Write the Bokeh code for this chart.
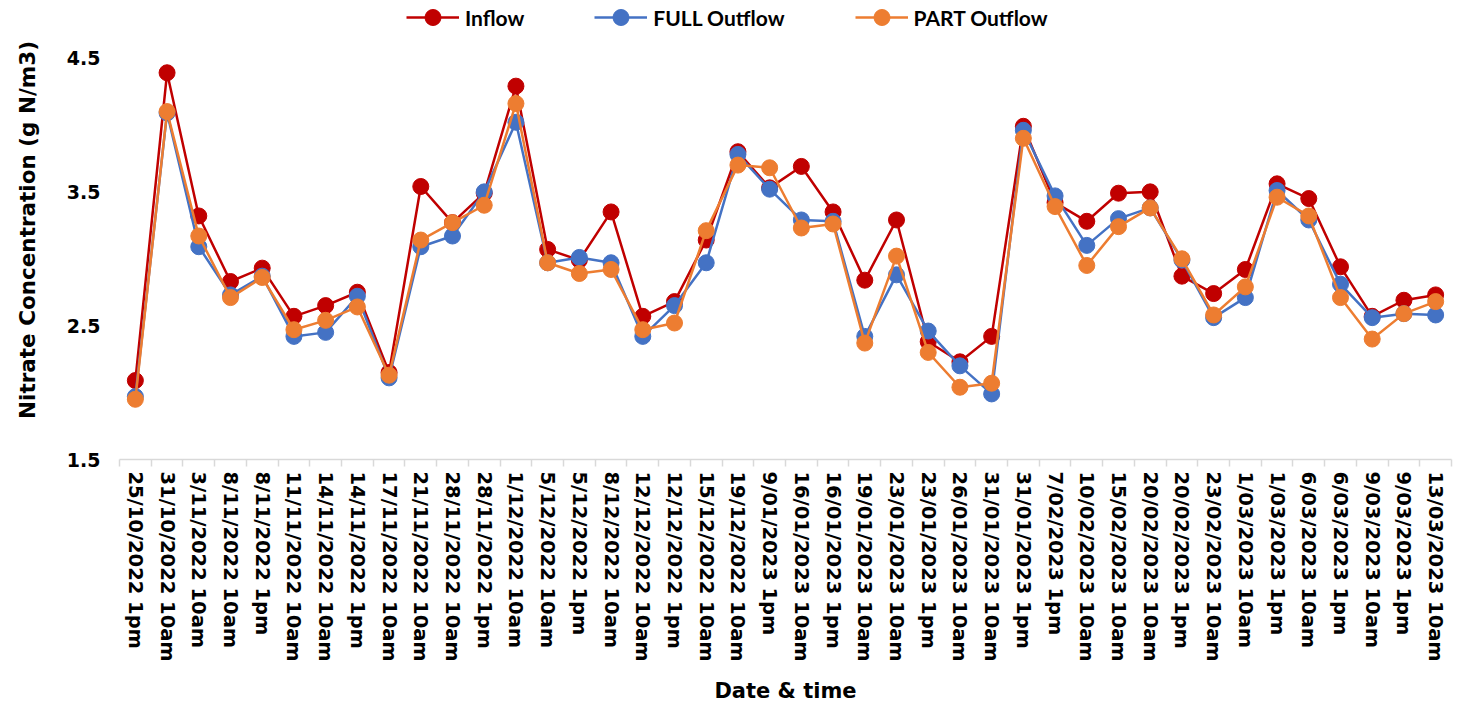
from bokeh.plotting import figure
from bokeh.models import Range1d, FixedTicker, Legend, LegendItem
from bokeh.embed import file_html
from bokeh.resources import INLINE

# Sampling times (category axis)
labels = [
    "25/10/2022 1pm", "31/10/2022 10am", "3/11/2022 10am", "8/11/2022 10am",
    "8/11/2022 1pm", "11/11/2022 10am", "14/11/2022 10am", "14/11/2022 1pm",
    "17/11/2022 10am", "21/11/2022 10am", "28/11/2022 10am", "28/11/2022 1pm",
    "1/12/2022 10am", "5/12/2022 10am", "5/12/2022 1pm", "8/12/2022 10am",
    "12/12/2022 10am", "12/12/2022 1pm", "15/12/2022 10am", "19/12/2022 10am",
    "9/01/2023 1pm", "16/01/2023 10am", "16/01/2023 1pm", "19/01/2023 10am",
    "23/01/2023 10am", "23/01/2023 1pm", "26/01/2023 10am", "31/01/2023 10am",
    "31/01/2023 1pm", "7/02/2023 1pm", "10/02/2023 10am", "15/02/2023 10am",
    "20/02/2023 10am", "20/02/2023 1pm", "23/02/2023 10am", "1/03/2023 10am",
    "1/03/2023 1pm", "6/03/2023 10am", "6/03/2023 1pm", "9/03/2023 10am",
    "9/03/2023 1pm", "13/03/2023 10am",
]

# Nitrate concentration, g N/m3
inflow = [2.09, 4.39, 3.32, 2.83, 2.93, 2.57, 2.65, 2.75, 2.15, 3.54, 3.27, 3.49,
          4.29, 3.07, 2.99, 3.35, 2.57, 2.68, 3.14, 3.80, 3.53, 3.69, 3.35, 2.84,
          3.29, 2.38, 2.23, 2.42, 3.99, 3.42, 3.28, 3.49, 3.50, 2.87, 2.74, 2.92,
          3.56, 3.45, 2.94, 2.57, 2.69, 2.73]
full_outflow = [1.97, 4.09, 3.09, 2.73, 2.87, 2.42, 2.45, 2.72, 2.11, 3.09, 3.17, 3.50,
                4.02, 2.97, 3.01, 2.97, 2.42, 2.65, 2.97, 3.78, 3.52, 3.29, 3.28, 2.42,
                2.88, 2.46, 2.20, 1.99, 3.96, 3.47, 3.10, 3.30, 3.38, 2.99, 2.56, 2.71,
                3.51, 3.29, 2.81, 2.56, 2.59, 2.58]
part_outflow = [1.95, 4.10, 3.17, 2.71, 2.86, 2.47, 2.54, 2.64, 2.13, 3.14, 3.27, 3.40,
                4.16, 2.97, 2.89, 2.92, 2.47, 2.52, 3.21, 3.70, 3.68, 3.23, 3.26, 2.37,
                3.02, 2.30, 2.04, 2.07, 3.90, 3.39, 2.95, 3.24, 3.38, 3.00, 2.58, 2.79,
                3.46, 3.32, 2.71, 2.40, 2.59, 2.68]

y_ticks = [1.5, 2.5, 3.5, 4.5]

series = [
    ("Inflow", inflow, "#C00000"),
    ("FULL Outflow", full_outflow, "#4472C4"),
    ("PART Outflow", part_outflow, "#ED7D31"),
]

n = len(labels)
xs = [i + 0.5 for i in range(n)]

AXIS_FONT = "DejaVu Sans"

p = figure(
    width=1460, height=705,
    output_backend="svg", toolbar_location=None,
    x_range=Range1d(0, n), y_range=Range1d(1.5, 4.93),
    min_border_left=119, min_border_right=9,
    min_border_top=0, min_border_bottom=245,
)
p.outline_line_color = None
p.xgrid.visible = False
p.ygrid.visible = False

# x axis: labels at category centres, small ticks between categories
xa = p.xaxis[0]
xa.ticker = FixedTicker(ticks=xs, minor_ticks=list(range(n + 1)))
xa.major_label_overrides = {x: lab for x, lab in zip(xs, labels)}
xa.major_label_orientation = "vertical"
xa.major_label_text_font = AXIS_FONT
xa.major_label_text_font_style = "bold"
xa.major_label_text_font_size = "19.5px"
xa.major_label_text_color = "black"
xa.major_label_standoff = 5
xa.major_tick_line_color = None
xa.major_tick_out = 0
xa.major_tick_in = 0
xa.minor_tick_line_color = "#D9D9D9"
xa.minor_tick_line_width = 1.5
xa.minor_tick_out = 7
xa.minor_tick_in = 0
xa.axis_line_color = "#D9D9D9"
xa.axis_line_width = 1.5
xa.axis_label = "Date & time"
xa.axis_label_text_font = AXIS_FONT
xa.axis_label_text_font_style = "bold"
xa.axis_label_text_font_size = "21px"
xa.axis_label_text_color = "black"
xa.axis_label_standoff = 14

# y axis: bare labels, no line or ticks
ya = p.yaxis[0]
ya.ticker = FixedTicker(ticks=y_ticks)
ya.axis_line_color = None
ya.major_tick_line_color = None
ya.minor_tick_line_color = None
ya.major_tick_out = 0
ya.major_label_standoff = 19
ya.major_label_text_font = AXIS_FONT
ya.major_label_text_font_style = "bold"
ya.major_label_text_font_size = "19px"
ya.major_label_text_color = "black"
ya.axis_label = "Nitrate Concentration (g N/m3)"
ya.axis_label_text_font = AXIS_FONT
ya.axis_label_text_font_style = "bold"
ya.axis_label_text_font_size = "21.5px"
ya.axis_label_text_color = "black"
ya.axis_label_standoff = 24

items = []
for name, vals, color in series:
    ln = p.line(xs, vals, line_color=color, line_width=2.5)
    pts = p.scatter(xs, vals, size=16, fill_color=color, line_color=color)
    items.append(LegendItem(label=name, renderers=[ln, pts]))

legend = Legend(
    items=items,
    orientation="horizontal",
    location=(287, 422),
    glyph_width=53, glyph_height=40,
    label_standoff=6, spacing=70,
    padding=0, margin=0,
    border_line_color=None, background_fill_alpha=0,
    label_text_font="Lato", label_text_font_style="bold",
    label_text_font_size="21px", label_text_color="black",
)
p.add_layout(legend)

open("out.html", "w").write(file_html(p, INLINE))
